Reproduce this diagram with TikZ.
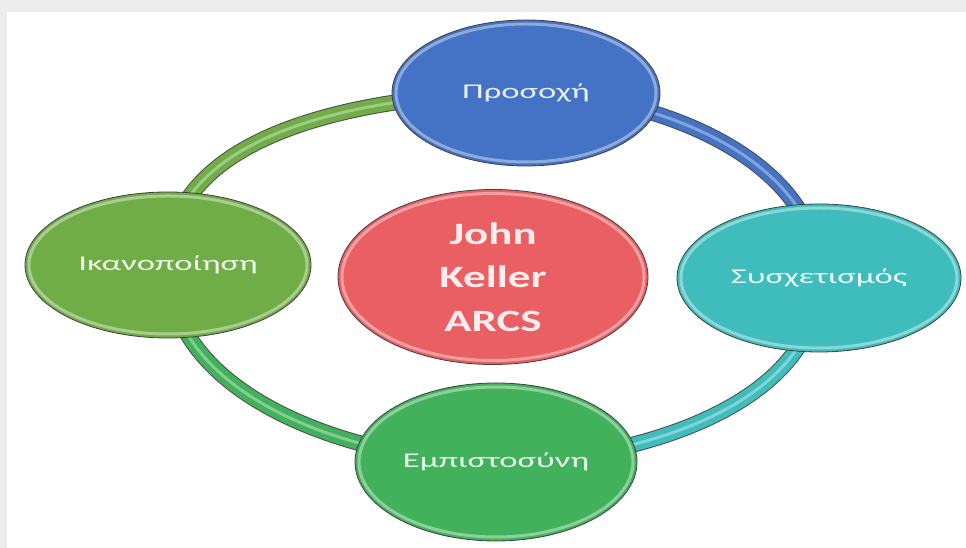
\documentclass[tikz,border=0pt]{standalone}
\usepackage{fontspec}
\setmainfont{Carlito}
\newfontfamily\lblfont{Carlito}[FakeStretch=1.65]
\newfontfamily\hubfont{Carlito}[FakeStretch=1.45]
\usetikzlibrary{shapes.geometric,calc,backgrounds}
\definecolor{attblue}{HTML}{4472C4}
\definecolor{relteal}{HTML}{3FBDBD}
\definecolor{confgreen}{HTML}{41B25B}
\definecolor{satgreen}{HTML}{70AD47}
\definecolor{hubred}{HTML}{EA5F63}

\begin{document}
\begin{tikzpicture}[x=1pt,y=1pt,
		bub/.style={ellipse,draw=black!75,line width=.8pt,fill=#1,text=#1!12!white,
			font=\lblfont\fontsize{21}{25}\selectfont,
			path picture={\draw[white,opacity=.4,line width=3pt] let \p1=(path picture bounding box.north east),\p2=(path picture bounding box.center) in (\p2) ellipse ({\x1-\x2-4pt} and {\y1-\y2-4pt});}},
		ring/.style={draw=#1,line width=14pt,looseness=.9,preaction={draw=black!70,line width=16pt},postaction={draw=white,opacity=.35,line width=3pt}}]
				\useasboundingbox (0,0) rectangle (966,548);
				\node[bub=attblue,minimum width=268pt,minimum height=146pt] (att) at (526,455){Προσοχή};
				\node[bub=relteal,minimum width=284pt,minimum height=148pt] (rel) at (819,270){Συσχετισμός};
				\node[bub=confgreen,minimum width=282pt,minimum height=158pt] (conf) at (496,86){Εμπιστοσύνη};
				\node[bub=satgreen,minimum width=286pt,minimum height=146pt] (sat) at (168,283){Ικανοποίηση};
				\node[bub=hubred,minimum width=310pt,minimum height=175pt,align=center,
					font=\hubfont\bfseries\fontsize{31}{43.5}\selectfont] (hub) at (493,271){John\\Keller\\ARCS};
				\begin{scope}[on background layer]
				\fill[black!7] (0,0) rectangle (966,548);
				\fill[white] (7,0) rectangle (966,536);
				\draw[ring=attblue] (att.center) to[out=0,in=90] (rel.center);
				\draw[ring=relteal] (rel.center) to[out=-90,in=0] (conf.center);
				\draw[ring=confgreen] (conf.center) to[out=180,in=-90] (sat.center);
				\draw[ring=satgreen] (sat.center) to[out=90,in=180] (att.center);
				\end{scope}
			\end{tikzpicture}
\end{document}
